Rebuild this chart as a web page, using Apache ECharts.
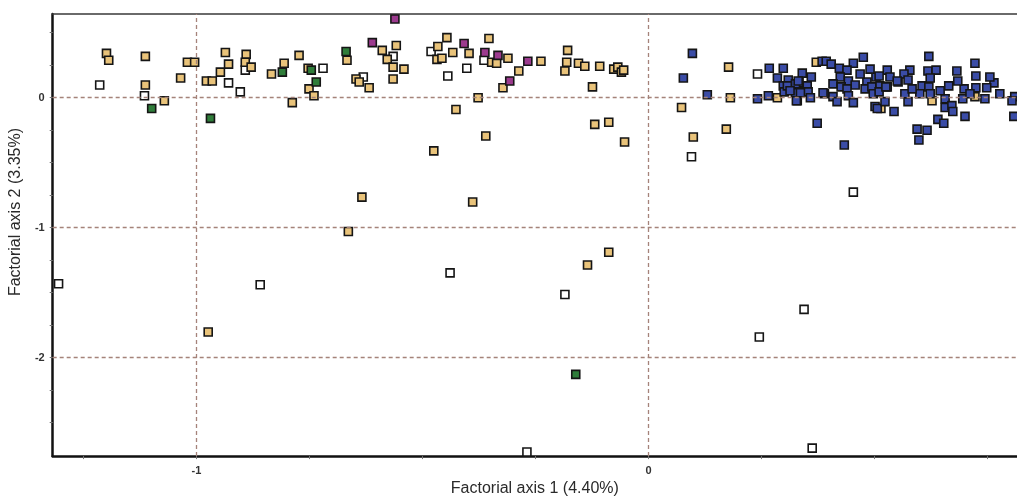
<!DOCTYPE html>
<html>
<head>
<meta charset="utf-8">
<script src="https://cdn.jsdelivr.net/npm/echarts@6/dist/echarts.min.js"></script>
<style>
html,body{margin:0;padding:0;background:#fff;overflow:hidden;}
#chart{width:1017px;height:502px;}
</style>
</head>
<body>
<div id="chart"></div>
<script>
// ---- data (factorial axis 1, factorial axis 2) ----
var bluePoints = [
[0.097,0.341],[0.077,0.152],[0.130,0.023],[0.241,-0.008],[0.265,0.015],[0.267,0.227],[0.285,0.152],[0.298,0.227],
[0.309,0.136],[0.298,0.091],[0.313,0.083],[0.300,0.045],[0.325,0.038],[0.333,0.114],[0.340,0.189],[0.351,0.091],
[0.338,0.045],[0.353,0.045],[0.329,-0.023],[0.358,0.000],[0.389,0.030],[0.373,-0.197],[0.433,-0.364],
[0.384,0.280],[0.393,0.280],[0.404,0.258],[0.422,0.227],[0.453,0.265],[0.475,0.311],[0.439,0.212],[0.424,0.159],
[0.408,0.106],[0.442,0.129],[0.457,0.098],[0.426,0.083],[0.439,0.068],[0.408,0.008],[0.417,-0.030],[0.442,0.015],
[0.453,-0.038],[0.483,0.121],[0.479,0.068],[0.494,0.083],[0.497,0.030],[0.503,0.159],[0.501,-0.068],[0.506,-0.083],
[0.386,0.038],[0.620,0.318],[0.722,0.265],[0.528,0.212],[0.578,0.212],[0.565,0.182],[0.618,0.205],[0.636,0.212],
[0.682,0.205],[0.724,0.167],[0.510,0.167],[0.534,0.159],[0.552,0.121],[0.574,0.136],[0.623,0.152],[0.764,0.114],
[0.748,0.076],[0.724,0.076],[0.698,0.068],[0.664,0.091],[0.605,0.091],[0.620,0.083],[0.528,0.083],[0.512,0.091],
[0.600,0.030],[0.623,0.030],[0.510,0.045],[0.523,-0.030],[0.574,-0.030],[0.656,-0.008],[0.695,-0.008],[0.810,0.008],
[0.656,-0.076],[0.671,-0.061],[0.673,-0.106],[0.543,-0.106],[0.700,-0.144],[0.640,-0.167],[0.653,-0.197],[0.594,-0.242],
[0.616,-0.250],[0.598,-0.326],[0.808,-0.144],[0.804,-0.023],[0.325,0.106],[0.331,0.129],[0.336,0.038],[0.327,-0.023],
[0.307,0.091],[0.313,0.053],[0.360,0.159],[0.468,0.182],[0.490,0.220],[0.550,0.129],[0.567,0.030],[0.525,0.083],
[0.684,0.129],[0.711,0.030],[0.645,0.053],[0.583,0.068],[0.755,0.159],[0.777,0.030],[0.744,-0.008]
];
var tanPoints = [
[-1.199,0.341],[-1.194,0.288],[-1.113,0.318],[-1.113,0.098],[-1.071,-0.023],[-1.035,0.152],[-1.020,0.273],[-1.004,0.273],
[-0.978,0.129],[-0.965,0.129],[-0.947,0.197],[-0.936,0.348],[-0.929,0.258],[-0.890,0.333],[-0.892,0.273],[-0.879,0.235],
[-0.834,0.182],[-0.806,0.265],[-0.773,0.326],[-0.753,0.227],[-0.751,0.068],[-0.740,0.015],[-0.788,-0.038],[-0.667,0.288],
[-0.589,0.364],[-0.558,0.402],[-0.578,0.295],[-0.565,0.235],[-0.541,0.220],[-0.647,0.144],[-0.640,0.121],[-0.618,0.076],
[-0.565,0.144],[-0.466,0.394],[-0.446,0.462],[-0.468,0.295],[-0.457,0.303],[-0.433,0.348],[-0.397,0.341],[-0.353,0.455],
[-0.347,0.273],[-0.336,0.265],[-0.311,0.303],[-0.287,0.205],[-0.322,0.076],[-0.238,0.280],[-0.179,0.364],[-0.181,0.273],
[-0.185,0.205],[-0.155,0.265],[-0.141,0.242],[-0.108,0.242],[-0.124,0.083],[-0.077,0.220],[-0.068,0.235],[-0.060,0.197],
[-0.055,0.212],[-0.377,0.000],[-0.426,-0.091],[-0.360,-0.295],[-0.475,-0.409],[-0.119,-0.205],[-0.088,-0.189],[-0.053,-0.341],
[-0.634,-0.765],[-0.389,-0.803],[-0.664,-1.030],[-0.088,-1.189],[-0.135,-1.288],[-0.974,-1.803],
[0.177,0.235],[0.073,-0.076],[0.181,0.000],[0.099,-0.303],[0.172,-0.242],[0.371,0.273],[0.285,0.000],[0.627,-0.023],
[0.722,0.008],[0.514,-0.083]
];
var whitePoints = [
[-1.214,0.098],[-1.115,0.015],[-0.929,0.114],[-0.903,0.045],[-0.892,0.212],[-0.720,0.227],[-0.631,0.159],[-0.565,0.318],
[-0.481,0.356],[-0.444,0.167],[-0.402,0.227],[-0.364,0.288],[-0.439,-1.348],[-0.185,-1.515],[-0.269,-2.727],[-1.305,-1.432],
[-0.859,-1.439],[0.095,-0.455],[0.241,0.182],[0.453,-0.727],[0.344,-1.629],[0.245,-1.841],[0.362,-2.697]
];
var greenPoints = [
[-1.099,-0.083],[-0.969,-0.159],[-0.810,0.197],[-0.746,0.212],[-0.735,0.121],[-0.669,0.356],[-0.161,-2.129]
];
var magentaPoints = [
[-0.561,0.606],[-0.611,0.424],[-0.408,0.417],[-0.362,0.348],[-0.333,0.326],[-0.267,0.280],[-0.307,0.129]
];
var xLabelValues = [-1, 0];
var yLabelValues = [0, -1, -2];
var xTickValues = [-1.25, -1, -0.75, -0.5, -0.25, 0, 0.25, 0.5, 0.75];
var yTickValues = [0.5, 0.25, 0, -0.25, -0.5, -0.75, -1, -1.25, -1.5, -1.75, -2, -2.25, -2.5];
var xRefLines = [-1, 0];
var yRefLines = [0, -1, -2];
var xTitle = 'Factorial axis 1 (4.40%)';
var yTitle = 'Factorial axis 2 (3.35%)';

// ---- chart ----
var FONT = '"Liberation Sans", Arial, sans-serif';
var chart = echarts.init(document.getElementById('chart'), null, {renderer: 'canvas', width: 1017, height: 502});

function pointSeries(name, data, fill) {
  return {
    name: name,
    type: 'scatter',
    data: data,
    symbol: 'rect',
    symbolSize: 8,
    z: 3,
    itemStyle: {color: fill, borderColor: '#151515', borderWidth: 1.6, opacity: 1},
    emphasis: {disabled: true}
  };
}

var refLineData = xRefLines.map(function (v) { return {xAxis: v}; })
  .concat(yRefLines.map(function (v) { return {yAxis: v}; }));

var option = {
  animation: false,
  backgroundColor: '#ffffff',
  grid: {left: 51, right: 0, top: 14, bottom: 39, containLabel: false},
  xAxis: [{
    type: 'value',
    min: -1.318, max: 0.815,
    position: 'bottom',
    name: xTitle,
    nameLocation: 'middle',
    nameGap: 19,
    nameTextStyle: {fontFamily: FONT, fontSize: 16, color: '#2a2a2a'},
    axisLine: {show: true, onZero: false, lineStyle: {color: '#111', width: 2.5}},
    axisTick: {show: true, length: 3, customValues: xTickValues, lineStyle: {color: '#777', width: 1}},
    axisLabel: {customValues: xLabelValues, margin: 9, fontFamily: FONT, fontSize: 11, fontWeight: 'bold', color: '#333'},
    splitLine: {show: false}
  }, {
    type: 'value',
    min: -1.318, max: 0.815,
    position: 'top',
    axisLine: {show: true, onZero: false, lineStyle: {color: '#3a3a3a', width: 1.5}},
    axisTick: {show: false},
    axisLabel: {show: false},
    splitLine: {show: false}
  }],
  yAxis: {
    type: 'value',
    min: -2.758, max: 0.644,
    name: yTitle,
    nameLocation: 'middle',
    nameGap: 23,
    nameTextStyle: {fontFamily: FONT, fontSize: 16, color: '#2a2a2a', padding: [0, 0, 0, 46]},
    axisLine: {show: true, onZero: false, lineStyle: {color: '#111', width: 2.5}},
    axisTick: {show: true, length: 3, customValues: yTickValues, lineStyle: {color: '#777', width: 1}},
    axisLabel: {customValues: yLabelValues, margin: 8, fontFamily: FONT, fontSize: 11, fontWeight: 'bold', color: '#333'},
    splitLine: {show: false}
  },
  series: [
    {
      type: 'scatter',
      data: [],
      z: 1,
      markLine: {
        silent: true,
        symbol: ['none', 'none'],
        label: {show: false},
        lineStyle: {color: '#a5837a', type: [4, 3], width: 1.3},
        data: refLineData
      }
    },
    pointSeries('white', whitePoints, '#ffffff'),
    pointSeries('tan', tanPoints, '#e9c37a'),
    pointSeries('blue', bluePoints, '#3a4ca6'),
    pointSeries('green', greenPoints, '#2f7d3a'),
    pointSeries('magenta', magentaPoints, '#9c3a8e')
  ]
};
chart.setOption(option);
</script>
</body>
</html>
